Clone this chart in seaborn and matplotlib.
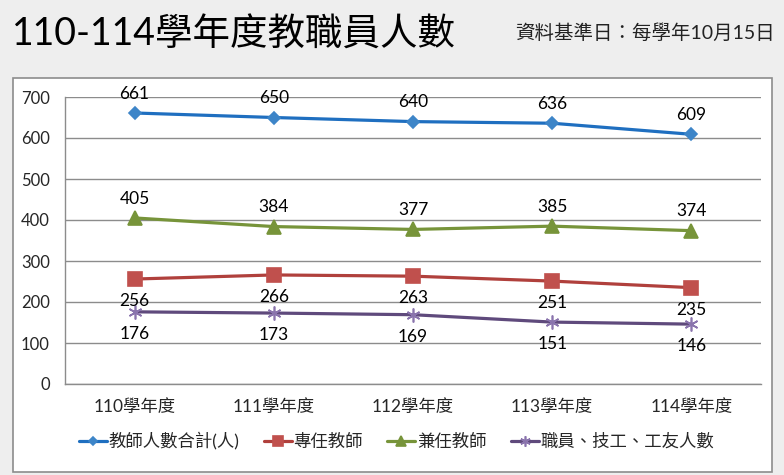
import pandas as pd
import matplotlib.pyplot as plt
import seaborn as sns
from matplotlib.patches import Rectangle

# data
years = ["110學年度", "111學年度", "112學年度", "113學年度", "114學年度"]
total_teachers = [661, 650, 640, 636, 609]
fulltime_teachers = [256, 266, 263, 251, 235]
parttime_teachers = [405, 384, 377, 385, 374]
staff = [176, 173, 169, 151, 146]

series_names = ["教師人數合計(人)", "專任教師", "兼任教師", "職員、技工、工友人數"]
series_values = [total_teachers, fulltime_teachers, parttime_teachers, staff]
line_colors = ["#1f6fc0", "#b0403c", "#77943a", "#5f4a7c"]
marker_colors = ["#3d85c8", "#c0504d", "#77943a", "#8a74ad"]
markers = ["D", "s", "^", (6, 2, 0)]
marker_sizes = [6, 10, 10, 10]
label_offsets = [14, -16, 14, -16]

sns.set_style("white")
plt.rcParams["font.family"] = ["Lato", "Noto Sans CJK TC", "DejaVu Sans"]

fig = plt.figure(figsize=(7.84, 4.75), dpi=100)
fig.patch.set_facecolor("#eeeeee")

# white chart frame
frame = Rectangle((13 / 784, 1 - 472 / 475), (772 - 13) / 784, (472 - 78) / 475,
                  transform=fig.transFigure, facecolor="white",
                  edgecolor="#8c8c8c", linewidth=1.2, zorder=-5)
fig.patches.append(frame)

ax = fig.add_axes([65 / 784, 1 - 384 / 475, (761 - 65) / 784, (384 - 97) / 475])
ax.set_zorder(2)
ax.set_facecolor("white")

for name, vals, lc, mc, mk, ms, off in zip(series_names, series_values, line_colors,
                                           marker_colors, markers, marker_sizes, label_offsets):
    df = pd.DataFrame({"year": years, "value": vals})
    sns.lineplot(data=df, x="year", y="value", ax=ax, color=lc, linewidth=2.3,
                 marker=mk, markersize=ms, markerfacecolor=mc, markeredgecolor=mc,
                 markeredgewidth=1.2, label=name, zorder=3)
    for i, v in enumerate(vals):
        ax.annotate(str(v), (i, v), xytext=(0, off), textcoords="offset points",
                    ha="center", va="center", fontsize=12.5, color="black", zorder=4)

ax.set_xlim(-0.5, 4.5)
ax.set_ylim(0, 700)
ax.set_yticks(range(0, 701, 100))
ax.grid(axis="y", color="#8c8c8c", linewidth=1)
ax.grid(axis="x", visible=False)
ax.set_axisbelow(True)
for s in ["top", "right"]:
    ax.spines[s].set_visible(False)
for s in ["left", "bottom"]:
    ax.spines[s].set_color("#8c8c8c")
    ax.spines[s].set_linewidth(1)
ax.tick_params(axis="y", length=0, pad=11, labelsize=12)
ax.tick_params(axis="x", length=0, pad=11, labelsize=12.5)
ax.set_xlabel("")
ax.set_ylabel("")

handles, labels = ax.get_legend_handles_labels()
ax.legend(handles, labels, loc="center", bbox_to_anchor=(0.506, 0.072),
          bbox_transform=fig.transFigure, ncol=4, frameon=False, fontsize=12.5,
          handlelength=1.6, handletextpad=0.1, columnspacing=1.4, markerscale=0.75)

fig.text(12 / 784, 1 - 35 / 475, "110-114學年度教職員人數", fontsize=27,
         ha="left", va="center", color="black")
fig.text(775 / 784, 1 - 33 / 475, "資料基準日：每學年10月15日", fontsize=14,
         ha="right", va="center", color="#222222")

fig.savefig("out.png", dpi=100, facecolor=fig.get_facecolor())
